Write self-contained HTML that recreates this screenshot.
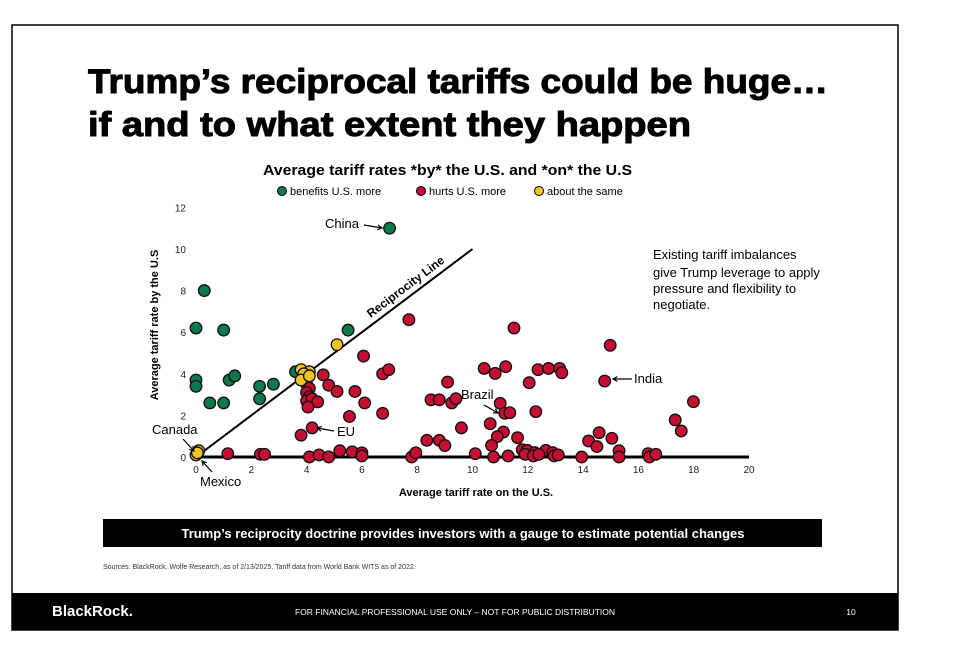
<!DOCTYPE html>
<html><head><meta charset="utf-8"><style>
html,body{margin:0;padding:0;background:#fff;width:955px;height:653px;overflow:hidden}
svg{display:block;font-family:"Liberation Sans",sans-serif}
</style></head><body>
<svg id="chart" width="955" height="653" viewBox="0 0 955 653">
  <rect x="12" y="25" width="886" height="605" fill="none" stroke="#000" stroke-width="1.5"/>
  <text x="88" y="93" font-size="34" font-weight="900" stroke="#000" stroke-width="1" textLength="740" lengthAdjust="spacingAndGlyphs">Trump’s reciprocal tariffs could be huge…</text>
  <text x="88" y="136" font-size="34" font-weight="900" stroke="#000" stroke-width="1" textLength="603" lengthAdjust="spacingAndGlyphs">if and to what extent they happen</text>
  <text x="263" y="175" font-size="15" font-weight="bold" textLength="369" lengthAdjust="spacingAndGlyphs">Average tariff rates *by* the U.S. and *on* the U.S</text>
  <g>
    <circle cx="282" cy="191" r="4.5" fill="#0b7a4b" stroke="#000"/>
    <text x="290" y="195" font-size="11">benefits U.S. more</text>
    <circle cx="421" cy="191" r="4.5" fill="#c40f32" stroke="#000"/>
    <text x="429" y="195" font-size="11">hurts U.S. more</text>
    <circle cx="539" cy="191" r="4.5" fill="#f5c227" stroke="#000"/>
    <text x="547" y="195" font-size="11">about the same</text>
  </g>
  <g id="plot"></g>
  <g font-size="13">
    <text x="653" y="259">Existing tariff imbalances</text>
    <text x="653" y="277">give Trump leverage to apply</text>
    <text x="653" y="293">pressure and flexibility to</text>
    <text x="653" y="309">negotiate.</text>
  </g>
  <text x="476" y="496" font-size="11" font-weight="bold" text-anchor="middle">Average tariff rate on the U.S.</text>
  <text transform="translate(158,325) rotate(-90)" font-size="11" font-weight="bold" text-anchor="middle">Average tariff rate by the U.S</text>
  <rect x="103" y="519" width="719" height="28" fill="#000"/>
  <text x="463" y="538" font-size="13" font-weight="bold" fill="#fff" text-anchor="middle">Trump’s reciprocity doctrine provides investors with a gauge to estimate potential changes</text>
  <text x="103" y="569" font-size="7" fill="#333">Sources: BlackRock, Wolfe Research, as of 2/13/2025. Tariff data from World Bank WITS as of 2022.</text>
  <rect x="12" y="593" width="886" height="37" fill="#000"/>
  <text x="52" y="616" font-size="15" font-weight="bold" fill="#fff">BlackRock.</text>
  <text x="455" y="615" font-size="8.5" fill="#fff" text-anchor="middle">FOR FINANCIAL PROFESSIONAL USE ONLY – NOT FOR PUBLIC DISTRIBUTION</text>
  <text x="851" y="615" font-size="8.5" fill="#fff" text-anchor="middle">10</text>
</svg>
<script>
const xTicks=[0,2,4,6,8,10,12,14,16,18,20];
const yTicks=[0,2,4,6,8,10,12];
const greenX=[0,0.3,1,0,0,0.5,1,1.2,1.4,2.3,2.3,2.8,3.6,5.5,7];
const greenY=[6.2,8.0,6.1,3.7,3.4,2.6,2.6,3.7,3.9,3.4,2.8,3.5,4.1,6.1,11.0];
const yellowX=[0,0.1,0.05,3.8,4.1,3.9,3.8,4.1,5.1];
const yellowY=[0.1,0.3,0.2,4.2,4.1,4.0,3.7,3.9,5.4];
const redX=[1.15,2.33,2.48,3.8,4.2,4.1,4.45,4.8,5.2,5.65,6.0,6.0,4.6,4.8,5.1,5.75,6.1,5.55,6.06,6.75,6.97,6.75,7.7,7.8,7.95,8.35,8.8,9.0,8.5,8.8,9.1,9.25,9.4,9.6,
 4.0,4.1,4.0,4.1,4.0,4.2,4.4,4.05,
 11.5,14.98,10.42,10.82,11.2,12.05,12.37,12.75,13.15,13.23,14.78,11.0,11.17,11.35,12.29,10.64,11.12,10.9,10.69,11.63,
 11.8,11.98,11.9,12.25,12.2,12.65,12.4,12.9,12.95,13.1,10.1,10.76,11.29,13.95,14.2,14.5,14.58,15.04,15.3,15.3,16.35,16.4,16.63,17.33,17.55,17.99];
const redY=[0.16,0.13,0.13,1.05,1.4,0,0.1,0,0.3,0.25,0.2,0.05,3.95,3.45,3.15,3.15,2.6,1.95,4.85,4.0,4.2,2.1,6.6,0,0.2,0.8,0.8,0.55,2.75,2.75,3.6,2.6,2.8,1.4,
 3.5,3.3,3.1,2.9,2.7,2.8,2.65,2.4,
 6.2,5.37,4.26,4.02,4.34,3.57,4.2,4.26,4.26,4.05,3.65,2.58,2.1,2.13,2.18,1.6,1.2,0.98,0.56,0.93,
 0.35,0.32,0.13,0.21,0.05,0.32,0.13,0.21,0.05,0.1,0.16,0,0.05,0,0.77,0.5,1.17,0.9,0.3,0,0.16,0,0.13,1.78,1.25,2.66];
const NS='http://www.w3.org/2000/svg';
const X=v=>196+v*27.65;
const Y=v=>457-v*20.8;
const plot=document.getElementById('plot');
function mk(tag,attrs,txt){const e=document.createElementNS(NS,tag);for(const k in attrs)e.setAttribute(k,attrs[k]);if(txt!==undefined)e.textContent=txt;plot.appendChild(e);return e;}
xTicks.forEach(t=>{
  const e=mk('text',{x:X(t),y:473,'font-size':10,'text-anchor':'middle',fill:'#222'},String(t));
  
  
});
yTicks.forEach(t=>{
  const e=mk('text',{x:186,y:Y(t)+4,'font-size':10,'text-anchor':'end',fill:'#222'},String(t));
  
  
});
let l=mk('line',{x1:X(0),y1:Y(0),x2:X(10),y2:Y(10),stroke:'#000','stroke-width':2});


let rl=mk('text',{transform:`translate(408,290) rotate(-37)`,'font-size':12,'font-weight':'bold','text-anchor':'middle'},'Reciprocity Line');


let b=mk('line',{x1:X(0),y1:Y(0),x2:X(20),y2:Y(0),stroke:'#000','stroke-width':3});


function dots(xs,ys,fill,name){xs.forEach((x,i)=>{
  const c=mk('circle',{cx:X(x),cy:Y(ys[i]),r:5.8,fill:fill,stroke:'#111','stroke-width':1.3});
  
  
});}
dots(greenX,greenY,'#0b7a4b','point-benefits');
dots(redX,redY,'#c40f32','point-hurts');
dots(yellowX,yellowY,'#f5c227','point-same');
const labels=[['China',325,228],['Canada',152,434],['Mexico',200,486],['EU',337,436],['Brazil',461,399],['India',634,383]];
labels.forEach(a=>{
  const t=mk('text',{x:a[1],y:a[2],'font-size':13},a[0]);
  
  
});
const arrows=[[364,225,382,228],[183,439,194,451],[212,472,202,461],[334,431,317,428],[484,405,498,413],[632,379,613,379]];
arrows.forEach(a=>{
  const p=mk('path',{d:`M${a[0]},${a[1]} L${a[2]},${a[3]}`,stroke:'#000','stroke-width':1.2,fill:'none'});
  
  
  const ang=Math.atan2(a[3]-a[1],a[2]-a[0]);const s=5;
  const h=mk('path',{d:`M${a[2]-s*Math.cos(ang-0.5)},${a[3]-s*Math.sin(ang-0.5)} L${a[2]},${a[3]} L${a[2]-s*Math.cos(ang+0.5)},${a[3]-s*Math.sin(ang+0.5)}`,stroke:'#000','stroke-width':1.2,fill:'none'});
  
  
});
</script>
</body></html>
